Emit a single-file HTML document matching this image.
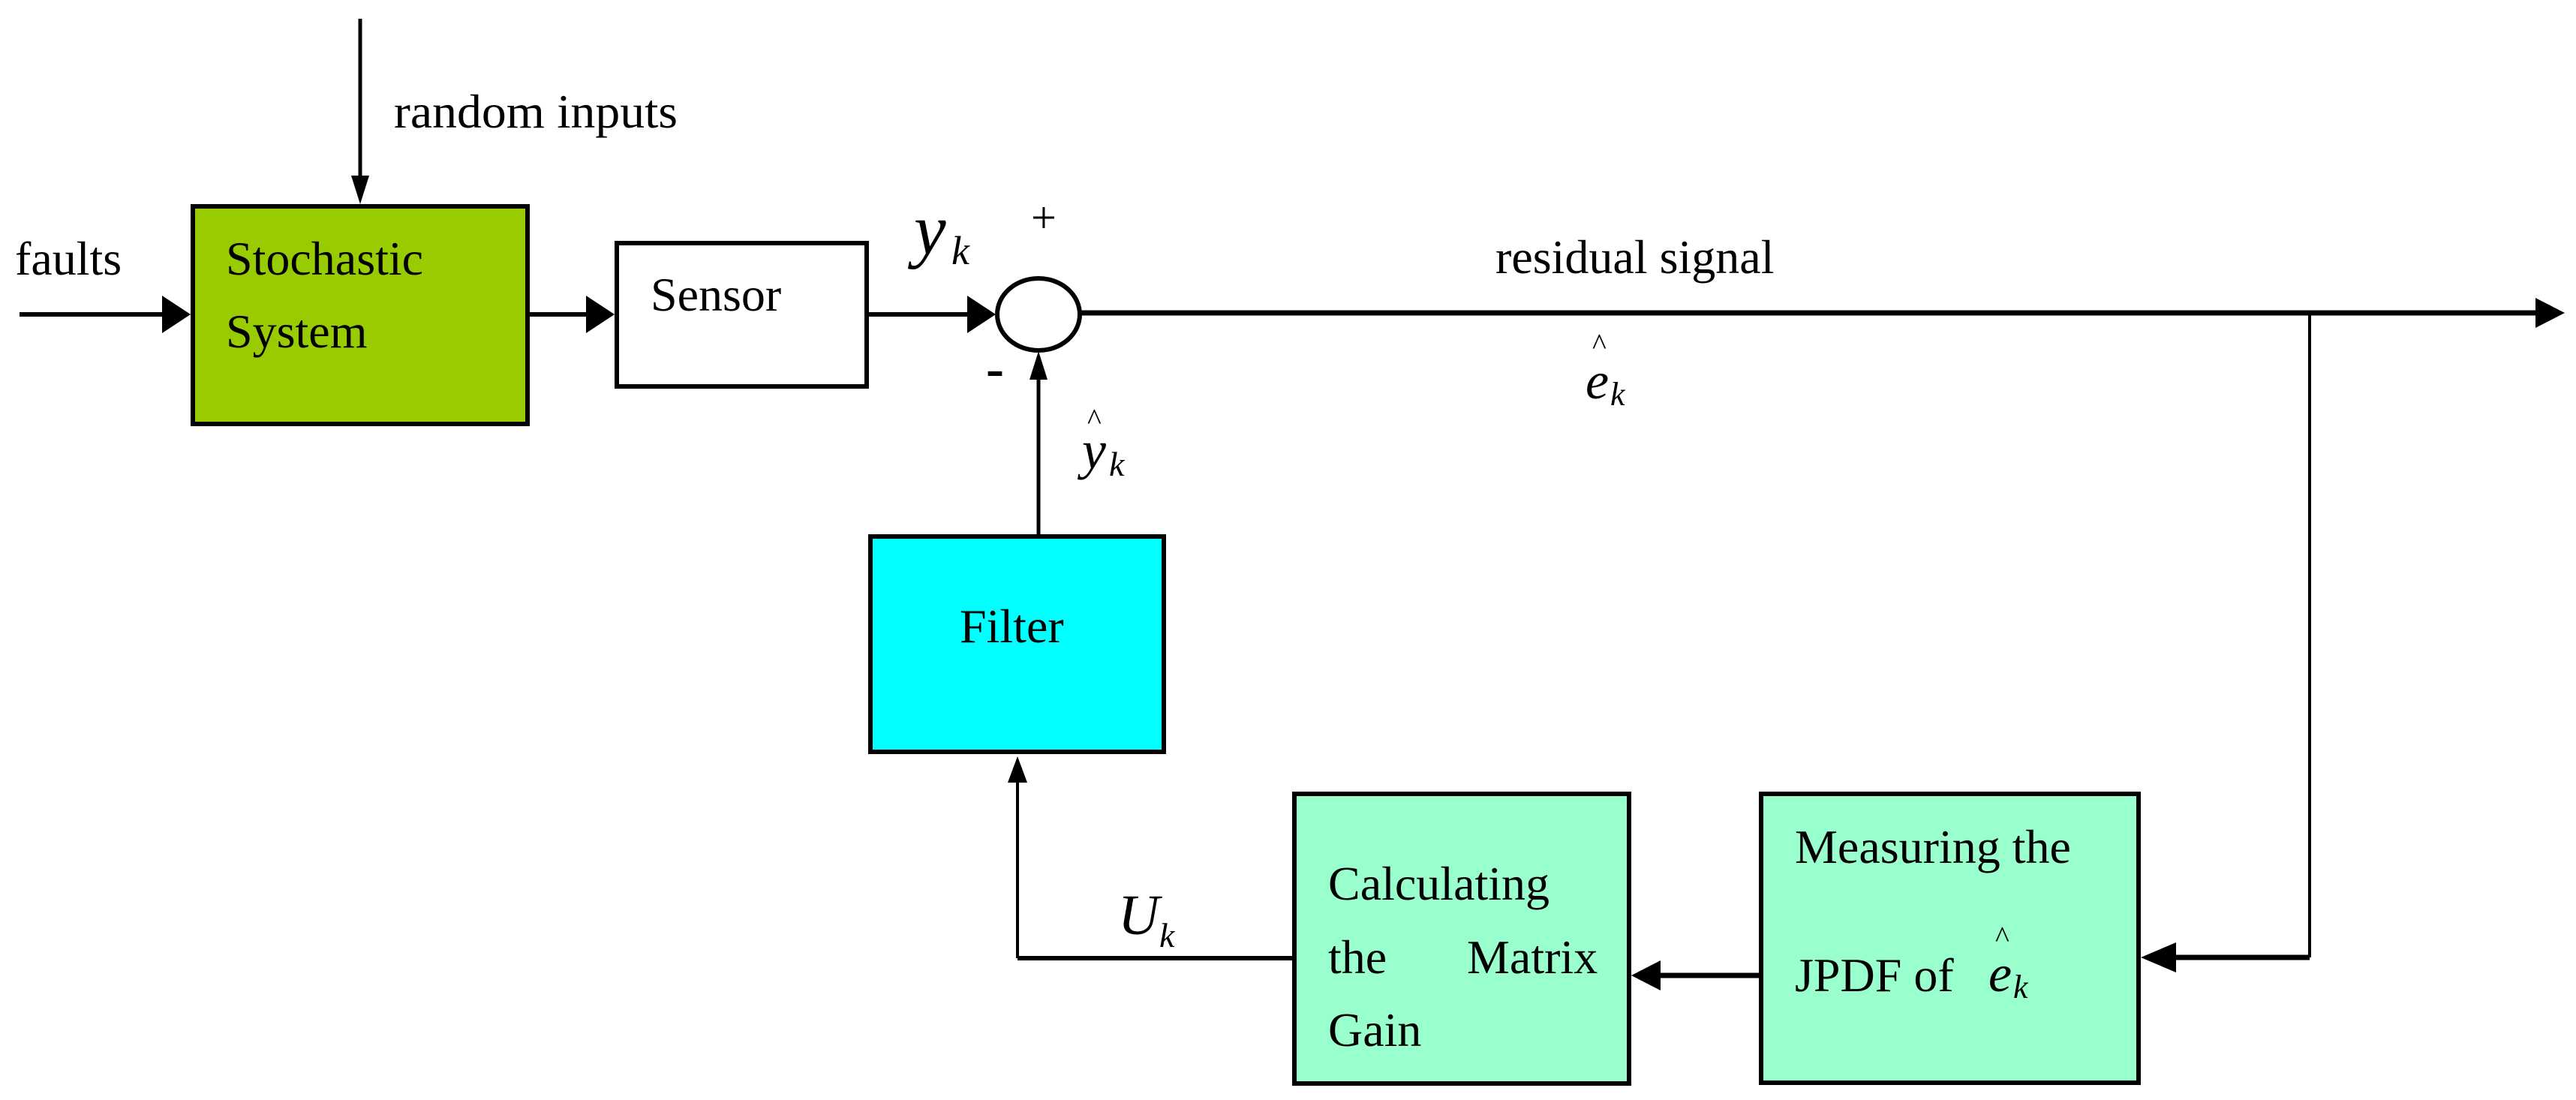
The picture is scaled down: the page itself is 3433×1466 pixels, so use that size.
<!DOCTYPE html>
<html><head><meta charset="utf-8"><style>
html,body{margin:0;padding:0;background:#fff}
svg{display:block}
</style></head><body>
<svg width="3433" height="1466" viewBox="0 0 3433 1466" xmlns="http://www.w3.org/2000/svg" font-family="'Liberation Serif','Times New Roman',serif">
<g stroke="#000" fill="none">
<line x1="480" y1="25" x2="480" y2="240" stroke-width="5"/>
<line x1="26" y1="419" x2="220" y2="419" stroke-width="6"/>
<line x1="706" y1="419" x2="785" y2="419" stroke-width="6"/>
<line x1="1158" y1="419" x2="1292" y2="419" stroke-width="6"/>
<line x1="1440" y1="417" x2="3385" y2="417" stroke-width="7"/>
<line x1="3078" y1="417" x2="3078" y2="1276" stroke-width="4"/>
<line x1="3078" y1="1276" x2="2900" y2="1276" stroke-width="7"/>
<line x1="2344" y1="1300" x2="2210" y2="1300" stroke-width="7"/>
<line x1="1722" y1="1277" x2="1356" y2="1277" stroke-width="6"/>
<line x1="1356" y1="1277" x2="1356" y2="1040" stroke-width="4"/>
<line x1="1384" y1="713" x2="1384" y2="500" stroke-width="5"/>
</g>
<g fill="#000">
<polygon points="468,234 492,234 480,272"/>
<polygon points="216,394 216,444 254,419"/>
<polygon points="781,394 781,444 819,419"/>
<polygon points="1289,394 1289,444 1327,419"/>
<polygon points="1372,506 1396,506 1384,468"/>
<polygon points="3379,397 3379,437 3418,417"/>
<polygon points="2900,1256 2900,1296 2853,1276"/>
<polygon points="2213,1280 2213,1320 2174,1300"/>
<polygon points="1343,1043 1369,1043 1356,1008"/>
</g>
<rect x="257" y="275" width="446" height="290" fill="#99cc00" stroke="#000" stroke-width="6"/>
<rect x="822" y="324" width="333" height="191" fill="#fff" stroke="#000" stroke-width="6"/>
<ellipse cx="1384" cy="419" rx="55" ry="48" fill="#fff" stroke="#000" stroke-width="6"/>
<rect x="1160" y="715" width="391" height="287" fill="#00ffff" stroke="#000" stroke-width="6"/>
<rect x="1725" y="1058" width="446" height="386" fill="#99ffcc" stroke="#000" stroke-width="6"/>
<rect x="2347" y="1058" width="503" height="385" fill="#99ffcc" stroke="#000" stroke-width="6"/>
<g font-size="64" fill="#000">
<text x="525" y="170" textLength="378" lengthAdjust="spacingAndGlyphs">random inputs</text>
<text x="20" y="366">faults</text>
<text x="301" y="366">Stochastic</text>
<text x="301" y="463">System</text>
<text x="867" y="414">Sensor</text>
<text x="1993" y="364">residual signal</text>
<text x="1279" y="856">Filter</text>
<text x="1770" y="1199">Calculating</text>
<text x="1770" y="1297">the</text>
<text x="1955" y="1297">Matrix</text>
<text x="1770" y="1394">Gain</text>
<text x="2392" y="1150">Measuring the</text>
<text x="2392" y="1321">JPDF of</text>
<text x="1374" y="310" font-size="60">+</text>
<text x="1314" y="515" font-size="72" font-weight="bold">-</text>
</g>
<g font-style="italic" fill="#000">
<text x="1218" y="338" font-size="96">y</text>
<text x="1268" y="352" font-size="54">k</text>
<text x="1442" y="624" font-size="72">y</text>
<text x="1478" y="634" font-size="46">k</text>
<text x="1449" y="572" font-size="40" font-style="normal">^</text>
<text x="2113" y="531" font-size="70">e</text>
<text x="2146" y="540" font-size="44">k</text>
<text x="2122" y="472" font-size="40" font-style="normal">^</text>
<text x="2650" y="1321" font-size="70">e</text>
<text x="2683" y="1330" font-size="44">k</text>
<text x="2659" y="1262" font-size="40" font-style="normal">^</text>
<text x="1490" y="1245" font-size="76">U</text>
<text x="1545" y="1262" font-size="46">k</text>
</g>
</svg>
</body></html>
